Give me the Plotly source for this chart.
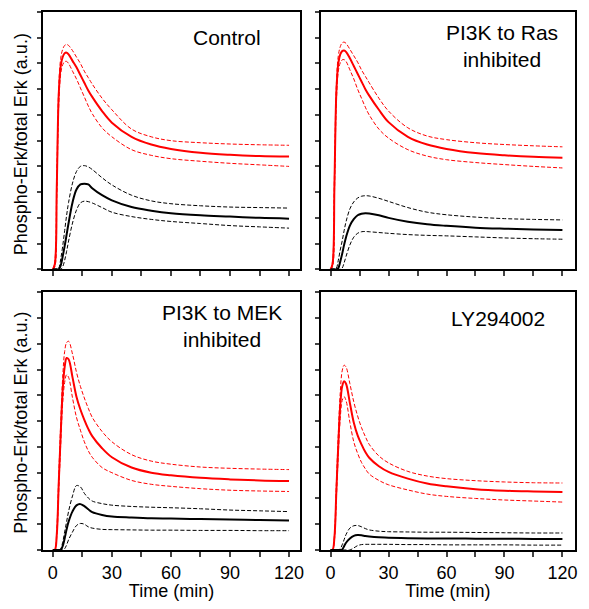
import plotly.graph_objects as go
from plotly.subplots import make_subplots

# time points (min)
t = [0, 1, 2, 3, 4, 5, 6, 7, 8, 10, 12, 14, 16, 18, 20, 25, 30, 40, 50, 60, 75, 90, 105, 120]

panel_titles = ["Control", "PI3K to Ras<br>inhibited", "PI3K to MEK<br>inhibited", "LY294002"]
x_tickvals = [0, 15, 30, 45, 60, 75, 90, 105, 120]
x_ticktext = ["0", "", "30", "", "60", "", "90", "", "120"]
y_tickvals = [0, 1, 2, 3, 4, 5, 6, 7, 8, 9, 10]

# Control
ctrl_red = [0, 0.2, 3.2, 6.8, 7.9, 8.25, 8.4, 8.42, 8.35, 8.1, 7.85, 7.55, 7.25, 6.95, 6.7, 6.15, 5.7, 5.15, 4.85, 4.68, 4.53, 4.45, 4.4, 4.38]
ctrl_red_hi = [0, 0.3, 3.6, 7.1, 8.2, 8.55, 8.7, 8.74, 8.7, 8.5, 8.25, 8.0, 7.7, 7.45, 7.2, 6.65, 6.2, 5.45, 5.15, 5.0, 4.92, 4.87, 4.84, 4.82]
ctrl_red_lo = [0, 0.1, 2.8, 6.4, 7.6, 7.95, 8.07, 8.08, 8.0, 7.7, 7.4, 7.05, 6.7, 6.35, 6.05, 5.5, 5.15, 4.65, 4.43, 4.3, 4.2, 4.12, 4.06, 4.0]
ctrl_blk = [0, 0, 0, 0, 0.15, 0.5, 0.9, 1.35, 1.8, 2.6, 3.1, 3.3, 3.33, 3.3, 3.15, 2.88, 2.68, 2.42, 2.28, 2.18, 2.1, 2.05, 2.0, 1.97]
ctrl_blk_hi = [0, 0, 0, 0.05, 0.4, 0.9, 1.5, 2.1, 2.6, 3.35, 3.8, 4.0, 4.03, 3.98, 3.88, 3.56, 3.28, 2.88, 2.66, 2.55, 2.47, 2.42, 2.4, 2.38]
ctrl_blk_lo = [0, 0, 0, 0, 0, 0.1, 0.35, 0.7, 1.1, 1.8, 2.3, 2.58, 2.65, 2.63, 2.58, 2.4, 2.22, 2.05, 1.94, 1.86, 1.78, 1.7, 1.65, 1.6]

# PI3K to Ras inhibited
ras_red = [0, 0.2, 3.3, 6.9, 8.0, 8.35, 8.48, 8.5, 8.45, 8.2, 7.9, 7.6, 7.3, 7.0, 6.75, 6.2, 5.72, 5.15, 4.85, 4.68, 4.52, 4.43, 4.37, 4.34]
ras_red_hi = [0, 0.3, 3.7, 7.2, 8.3, 8.65, 8.8, 8.83, 8.78, 8.55, 8.3, 8.05, 7.75, 7.5, 7.25, 6.65, 6.15, 5.5, 5.18, 5.04, 4.92, 4.85, 4.8, 4.76]
ras_red_lo = [0, 0.1, 2.9, 6.5, 7.7, 8.02, 8.14, 8.15, 8.08, 7.75, 7.4, 7.0, 6.65, 6.3, 6.0, 5.45, 5.1, 4.65, 4.4, 4.26, 4.15, 4.07, 4.0, 3.94]
ras_blk = [0, 0, 0, 0, 0.05, 0.3, 0.6, 0.95, 1.25, 1.7, 1.95, 2.1, 2.16, 2.18, 2.17, 2.1, 2.0, 1.85, 1.75, 1.69, 1.62, 1.58, 1.55, 1.53]
ras_blk_hi = [0, 0, 0, 0.05, 0.35, 0.75, 1.1, 1.5, 1.85, 2.35, 2.62, 2.77, 2.84, 2.86, 2.85, 2.76, 2.64, 2.4, 2.22, 2.12, 2.03, 1.97, 1.94, 1.92]
ras_blk_lo = [0, 0, 0, 0, 0, 0, 0.05, 0.25, 0.5, 0.95, 1.25, 1.4, 1.46, 1.47, 1.46, 1.43, 1.4, 1.35, 1.32, 1.3, 1.26, 1.22, 1.19, 1.17]

# PI3K to MEK inhibited
mek_red = [0, 0, 0.6, 2.6, 4.5, 6.2, 7.1, 7.45, 7.4, 6.7, 5.95, 5.45, 5.05, 4.7, 4.42, 3.95, 3.6, 3.2, 3.0, 2.9, 2.8, 2.74, 2.7, 2.68]
mek_red_hi = [0, 0, 0.8, 2.9, 4.9, 6.7, 7.7, 8.05, 8.1, 7.6, 6.9, 6.35, 5.9, 5.5, 5.15, 4.6, 4.2, 3.7, 3.45, 3.33, 3.22, 3.17, 3.14, 3.12]
mek_red_lo = [0, 0, 0.5, 2.3, 4.1, 5.7, 6.5, 6.8, 6.7, 5.9, 5.15, 4.65, 4.2, 3.85, 3.6, 3.2, 3.0, 2.7, 2.55, 2.47, 2.38, 2.32, 2.29, 2.27]
mek_blk = [0, 0, 0, 0, 0, 0.15, 0.45, 0.8, 1.1, 1.5, 1.73, 1.78, 1.7, 1.58, 1.47, 1.36, 1.3, 1.26, 1.23, 1.22, 1.2, 1.18, 1.16, 1.14]
mek_blk_hi = [0, 0, 0, 0, 0.05, 0.3, 0.7, 1.1, 1.5, 2.1, 2.5, 2.45, 2.2, 2.02, 1.9, 1.8, 1.74, 1.69, 1.66, 1.64, 1.6, 1.55, 1.52, 1.49]
mek_blk_lo = [0, 0, 0, 0, 0, 0, 0.05, 0.2, 0.4, 0.7, 0.95, 1.03, 1.0, 0.9, 0.85, 0.8, 0.79, 0.78, 0.77, 0.77, 0.76, 0.76, 0.75, 0.75]

# LY294002
ly_red = [0, 0, 0.5, 2.3, 4.1, 5.6, 6.35, 6.55, 6.45, 5.7, 4.95, 4.45, 4.1, 3.8, 3.58, 3.25, 3.03, 2.77, 2.58, 2.47, 2.36, 2.3, 2.27, 2.25]
ly_red_hi = [0, 0, 0.6, 2.6, 4.5, 6.1, 6.95, 7.17, 7.1, 6.45, 5.75, 5.2, 4.75, 4.4, 4.1, 3.65, 3.38, 3.05, 2.87, 2.77, 2.69, 2.64, 2.61, 2.6]
ly_red_lo = [0, 0, 0.4, 2.0, 3.7, 5.1, 5.8, 5.95, 5.8, 4.95, 4.2, 3.75, 3.4, 3.15, 2.95, 2.7, 2.53, 2.33, 2.17, 2.08, 2.0, 1.94, 1.9, 1.86]
ly_blk = [0, 0, 0, 0, 0, 0, 0.02, 0.15, 0.28, 0.45, 0.55, 0.58, 0.57, 0.54, 0.52, 0.49, 0.48, 0.46, 0.45, 0.45, 0.44, 0.44, 0.43, 0.43]
ly_blk_hi = [0, 0, 0, 0, 0, 0.05, 0.2, 0.4, 0.6, 0.85, 0.94, 0.95, 0.9, 0.83, 0.78, 0.73, 0.71, 0.7, 0.69, 0.69, 0.68, 0.67, 0.66, 0.66]
ly_blk_lo = [0, 0, 0, 0, 0, 0, 0, 0, 0, 0, 0.08, 0.17, 0.21, 0.22, 0.22, 0.22, 0.22, 0.21, 0.21, 0.2, 0.2, 0.2, 0.19, 0.19]

panels = [
    (1, 1, [ctrl_red, ctrl_red_hi, ctrl_red_lo, ctrl_blk, ctrl_blk_hi, ctrl_blk_lo]),
    (1, 2, [ras_red, ras_red_hi, ras_red_lo, ras_blk, ras_blk_hi, ras_blk_lo]),
    (2, 1, [mek_red, mek_red_hi, mek_red_lo, mek_blk, mek_blk_hi, mek_blk_lo]),
    (2, 2, [ly_red, ly_red_hi, ly_red_lo, ly_blk, ly_blk_hi, ly_blk_lo]),
]

FONT = "Liberation Sans, Arial, sans-serif"

fig = make_subplots(rows=2, cols=2)

for row, col, series in panels:
    red, red_hi, red_lo, blk, blk_hi, blk_lo = series
    for ys, color in [(red_hi, "red"), (red_lo, "red"), (blk_hi, "black"), (blk_lo, "black")]:
        fig.add_trace(go.Scatter(x=t, y=ys, mode="lines",
                                 line=dict(color=color, width=1, dash="4px,2px", shape="spline", smoothing=1.0)),
                      row=row, col=col)
    fig.add_trace(go.Scatter(x=t, y=red, mode="lines",
                             line=dict(color="red", width=2, shape="spline", smoothing=1.0)), row=row, col=col)
    fig.add_trace(go.Scatter(x=t, y=blk, mode="lines",
                             line=dict(color="black", width=2, shape="spline", smoothing=1.0)), row=row, col=col)

# axis styling
for row in [1, 2]:
    for col in [1, 2]:
        fig.update_xaxes(range=[-5, 125.6] if col == 1 else [-5, 126.5],
                         tickvals=x_tickvals, ticktext=x_ticktext,
                         showticklabels=(row == 2), ticks="outside", ticklen=5, tickwidth=1.5,
                         showline=True, linewidth=2, linecolor="black", mirror=True,
                         showgrid=False, zeroline=False,
                         tickfont=dict(size=18, color="black", family=FONT),
                         row=row, col=col)
        fig.update_yaxes(range=[0, 10], tickvals=y_tickvals, showticklabels=False,
                         ticks="outside", ticklen=4, tickwidth=1.5,
                         showline=True, linewidth=2, linecolor="black", mirror=True,
                         showgrid=False, zeroline=False, row=row, col=col)
    fig.update_xaxes(title_text="Time (min)", title_font=dict(size=18, color="black", family=FONT),
                     title_standoff=4, row=2, col=row)

# panel positions
fig.update_layout(
    xaxis=dict(domain=[0, 0.4832]), xaxis2=dict(domain=[0.5224, 1]),
    xaxis3=dict(domain=[0, 0.4832]), xaxis4=dict(domain=[0.5224, 1]),
    yaxis=dict(domain=[0.5217, 1]), yaxis2=dict(domain=[0.5217, 1]),
    yaxis3=dict(domain=[0, 0.479]), yaxis4=dict(domain=[0, 0.479]),
)

title_pos = [(0.714, 0.90), (0.714, 0.868), (0.695, 0.868), (0.695, 0.90)]
axis_ids = ["", "2", "3", "4"]
for name, (px, py), aid in zip(panel_titles, title_pos, axis_ids):
    fig.add_annotation(text=name, x=px, y=py, xref="x%s domain" % aid, yref="y%s domain" % aid,
                       showarrow=False, xanchor="center", yanchor="middle",
                       font=dict(size=21, color="black", family=FONT))

# y axis titles, one for each row
for yc in [0.7546, 0.237]:
    fig.add_annotation(text="Phospho-Erk/total Erk (a.u.)", x=-0.041, y=yc,
                       xref="paper", yref="paper", textangle=-90, showarrow=False,
                       xanchor="center", yanchor="middle",
                       font=dict(size=18, color="black", family=FONT))

# page body keeps an 8px margin, so the figure is sized to fit inside the window
fig.update_layout(width=573, height=593, showlegend=False,
                  margin=dict(l=35, r=2, t=4, b=51),
                  plot_bgcolor="white", paper_bgcolor="white",
                  font=dict(family=FONT, color="black"))

fig.write_html("out.html")
